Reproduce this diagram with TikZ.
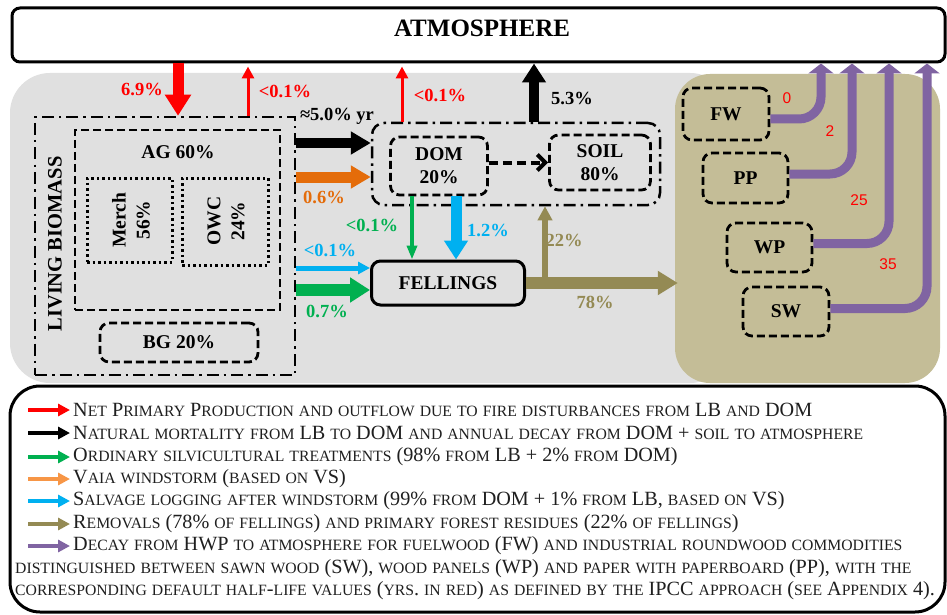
\documentclass[tikz,border=0pt]{standalone}
\usepackage{fontspec}
\setmainfont{Liberation Serif}
\newfontfamily\sansf{Liberation Sans}
\usetikzlibrary{arrows.meta}
\definecolor{bggray}{RGB}{224,224,224}
\definecolor{tanc}{RGB}{196,189,151}
\definecolor{olivec}{RGB}{148,138,84}
\definecolor{purpc}{RGB}{128,100,162}
\definecolor{greenc}{RGB}{0,176,80}
\definecolor{cyanc}{RGB}{0,176,240}
\definecolor{orangec}{RGB}{228,108,10}
\definecolor{lorangec}{RGB}{247,150,70}
\newcommand\fscspace{\space}
\newcommand\fscsmall{\fontsize{15.7}{18}\selectfont}
\ExplSyntaxOn
\tl_new:N \l_fsc_tl
\NewDocumentCommand \fsc { m }
 {
  \tl_set:Nn \l_fsc_tl {#1}
  \tl_replace_all:Nnn \l_fsc_tl { ~ } { \fscspace }
  \tl_map_inline:Nn \l_fsc_tl
   {
    \tl_if_in:nnTF { abcdefghijklmnopqrstuvwxyz } { ##1 }
     { { \fscsmall \text_uppercase:n { ##1 } } }
     { ##1 }
   }
 }
\ExplSyntaxOff
\begin{document}
\begin{tikzpicture}[x=1pt,y=-1pt,
  box/.style={draw, line width=2.8pt, inner sep=0pt},
  dashbox/.style={box, dash pattern=on 8pt off 4pt, rounded corners=9pt},
  sqdash/.style={box, dash pattern=on 8pt off 4pt},
  dotbox/.style={box, line width=3pt, dash pattern=on 2.5pt off 3pt},
  dashdot/.style={box, line width=2.5pt, dash pattern=on 12pt off 5pt on 2.5pt off 5pt},
  solidbox/.style={box, line width=3pt, rounded corners=9pt},
  pct/.style={font=\bfseries\fontsize{18.5}{21}\selectfont},
  boxtxt/.style={font=\bfseries\fontsize{19.5}{23}\selectfont, align=center},
  num/.style={font=\sansf\fontsize{15.5}{18}\selectfont, text=red},
  legtxt/.style={anchor=west, inner sep=0pt, font=\fontsize{20.2}{23}\selectfont, text=black!88},
  legarr/.style={line width=4pt, -{Triangle[length=12pt,width=12pt]}},
  purp/.style={purpc, line width=9pt, rounded corners=22pt, -{Triangle[length=10pt,width=25pt]}}
]
\useasboundingbox (0,0) rectangle (947,615);
\fill[white] (0,0) rectangle (947,615);
% backgrounds
\node[fill=bggray, rounded corners=40pt, minimum width=720pt, minimum height=310pt, inner sep=0pt] (forest) at (370,228) {};
\node[fill=tanc, rounded corners=35pt, minimum width=265pt, minimum height=309pt, inner sep=0pt] (hwp) at (807.5,228.5) {};
% atmosphere
\node[solidbox, rounded corners=8pt, minimum width=933pt, minimum height=54pt] (atm) at (478.5,35) {};
\node[font=\bfseries\fontsize{25}{28}\selectfont] (atmt) at (482,28) {ATMOSPHERE};
% living biomass
\node[dashdot, minimum width=260pt, minimum height=258pt] (lb) at (165,246) {};
\node[boxtxt, rotate=90, font=\bfseries\fontsize{20.5}{23}\selectfont] (lbt) at (55,244) {LIVING BIOMASS};
\node[sqdash, minimum width=205pt, minimum height=180pt] (ag) at (177.5,220) {};
\node[boxtxt] (agt) at (178,152) {AG 60\%};
\node[dotbox, minimum width=85pt, minimum height=84pt] (merch) at (129.5,220) {};
\node[boxtxt, rotate=90, font=\bfseries\fontsize{19.5}{24}\selectfont] (mercht) at (131,220) {Merch\\56\%};
\node[dotbox, minimum width=86pt, minimum height=87pt] (owc) at (225,221.5) {};
\node[boxtxt, rotate=90, font=\bfseries\fontsize{19.5}{24}\selectfont] (owct) at (226,221) {OWC\\24\%};
\node[dashbox, minimum width=158pt, minimum height=39pt, boxtxt] (bg) at (179,342.5) {BG 20\%};
% DOM + soil
\node[dashdot, rounded corners=12pt, minimum width=288pt, minimum height=82pt] (domgrp) at (516,164) {};
\node[dashbox, minimum width=97pt, minimum height=58pt, boxtxt] (dom) at (439,166) {DOM\\20\%};
\node[dashbox, minimum width=101pt, minimum height=55pt, boxtxt] (soil) at (600,162.5) {SOIL\\80\%};
\node[solidbox, minimum width=153pt, minimum height=44pt, boxtxt] (fell) at (448,283) {FELLINGS};
% HWP boxes
\node[dashbox, minimum width=86pt, minimum height=52pt, boxtxt] (fw) at (726,114) {FW};
\node[dashbox, minimum width=85pt, minimum height=50pt, boxtxt] (pp) at (745.5,178) {PP};
\node[dashbox, minimum width=85pt, minimum height=49pt, boxtxt] (wp) at (769.5,247.5) {WP};
\node[dashbox, minimum width=86pt, minimum height=49pt, boxtxt] (sw) at (786,311.5) {SW};
% helper coordinates
\coordinate (x1) at (178,0);
\coordinate (x2) at (248,0);
\coordinate (x3) at (402,0);
\coordinate (x4) at (534,0);
\coordinate (x5) at (412,0);
\coordinate (x6) at (456,0);
\coordinate (y1) at (0,143);
\coordinate (y2) at (0,177);
\coordinate (y3) at (0,268);
\coordinate (y4) at (0,290);
\coordinate (br) at (545,283);
\coordinate (p1) at (821,0);
\coordinate (p2) at (852,0);
\coordinate (p3) at (889,0);
\coordinate (p4) at (927,0);
% arrows
\draw[red, line width=11pt, -{Triangle[length=21pt,width=25pt]}] (atm.south -| x1) -- (lb.north -| x1);
\draw[red, line width=3pt, -{Triangle[length=12pt,width=12pt]}, shorten >=3pt] (lb.north -| x2) -- (atm.south -| x2);
\draw[red, line width=3pt, -{Triangle[length=12pt,width=12pt]}, shorten >=3pt] (domgrp.north -| x3) -- (atm.south -| x3);
\draw[black, line width=10pt, -{Triangle[length=19pt,width=23pt]}] (domgrp.north -| x4) -- (atm.south -| x4);
\draw[black, line width=10pt, -{Triangle[length=20pt,width=22pt]}] (lb.east |- y1) -- (domgrp.west |- y1);
\draw[orangec, line width=11pt, -{Triangle[length=20pt,width=22pt]}] (lb.east |- y2) -- (domgrp.west |- y2);
\draw[cyanc, line width=5pt, -{Triangle[length=12pt,width=12pt]}] (lb.east |- y3) -- (fell.west |- y3);
\draw[greenc, line width=12pt, -{Triangle[length=20pt,width=24pt]}] (lb.east |- y4) -- (fell.west |- y4);
\draw[greenc, line width=4pt, -{Triangle[length=14pt,width=10pt]}] (dom.south -| x5) -- (fell.north -| x5);
\draw[cyanc, line width=11pt, -{Triangle[length=19pt,width=23pt]}] (dom.south -| x6) -- (fell.north -| x6);
\draw[olivec, line width=12pt, -{Triangle[length=20pt,width=23pt]}, shorten >=-3pt] (fell.east) -- (hwp.west |- fell.east);
\draw[olivec, line width=6pt, -{Triangle[length=14pt,width=14pt]}] (br) -- (domgrp.south -| br);
\draw[black, line width=4pt, dash pattern=on 9pt off 5pt, -{Straight Barb[length=8pt,width=16pt,line width=4pt]}] (dom.east |- soil.west) -- (soil.west);
% purple decay
\draw[purp] ([yshift=-5pt]fw.east) -| (atm.south -| p1);
\draw[purp] ([yshift=4pt]pp.east) -| (atm.south -| p2);
\draw[purp] ([yshift=4pt]wp.east) -| (atm.south -| p3);
\draw[purp] ([yshift=3pt]sw.east) -| (atm.south -| p4);
% labels
\node[pct, text=red] (l1) at (142,89) {6.9\%};
\node[pct, text=red] (l2) at (285,91) {<0.1\%};
\node[pct, text=red] (l3) at (440,95) {<0.1\%};
\node[pct] (l4) at (572,98) {5.3\%};
\node[pct] (l5) at (337,116) {≈5.0\% yr};
\node[pct, text=orangec] (l6) at (324,197) {0.6\%};
\node[pct, text=cyanc] (l7) at (330,250) {<0.1\%};
\node[pct, text=greenc] (l8) at (327,311) {0.7\%};
\node[pct, text=greenc] (l9) at (372,225) {<0.1\%};
\node[pct, text=cyanc] (l10) at (488,230) {1.2\%};
\node[pct, text=olivec] (l11) at (564,240) {22\%};
\node[pct, text=olivec] (l12) at (595,302) {78\%};
\node[num] (n1) at (787,98) {0};
\node[num] (n2) at (830,131) {2};
\node[num] (n3) at (859,200) {25};
\node[num] (n4) at (888,264) {35};
% legend
\node[solidbox, rounded corners=30pt, minimum width=935pt, minimum height=226pt] (legend) at (477.5,499) {};
\draw[legarr, red] (28,410) -- (70,410);
\draw[legarr, black] (28,433) -- (70,433);
\draw[legarr, greenc] (28,457) -- (70,457);
\draw[legarr, lorangec] (28,479) -- (70,479);
\draw[legarr, cyanc] (28,501) -- (70,501);
\draw[legarr, olivec] (28,524) -- (70,524);
\draw[legarr, purpc] (28,546) -- (70,546);
\node[legtxt] (t1) at (73,410) {\fsc{Net Primary Production and outflow due to fire disturbances from LB and DOM}};
\node[legtxt] (t2) at (73,433) {\fsc{Natural mortality from LB to DOM and annual decay from DOM + soil to atmosphere}};
\node[legtxt] (t3) at (73,457) {\fsc{Ordinary silvicultural treatments (98\% from LB + 2\% from DOM)}};
\node[legtxt] (t4) at (73,479) {\fsc{Vaia windstorm (based on VS)}};
\node[legtxt] (t5) at (73,501) {\fsc{Salvage logging after windstorm (99\% from DOM + 1\% from LB, based on VS)}};
\node[legtxt] (t6) at (73,524) {\fsc{Removals (78\% of fellings) and primary forest residues (22\% of fellings)}};
\node[legtxt] (t7) at (73,546) {\fsc{Decay from HWP to atmosphere for fuelwood (FW) and industrial roundwood commodities}};
\node[legtxt] (t8) at (15,569) {\fsc{distinguished between sawn wood (SW), wood panels (WP) and paper with paperboard (PP), with the}};
\node[legtxt] (t9) at (15,591) {\fsc{corresponding default half-life values (yrs. in red) as defined by the IPCC approach (see Appendix 4).}};
\end{tikzpicture}
\end{document}
